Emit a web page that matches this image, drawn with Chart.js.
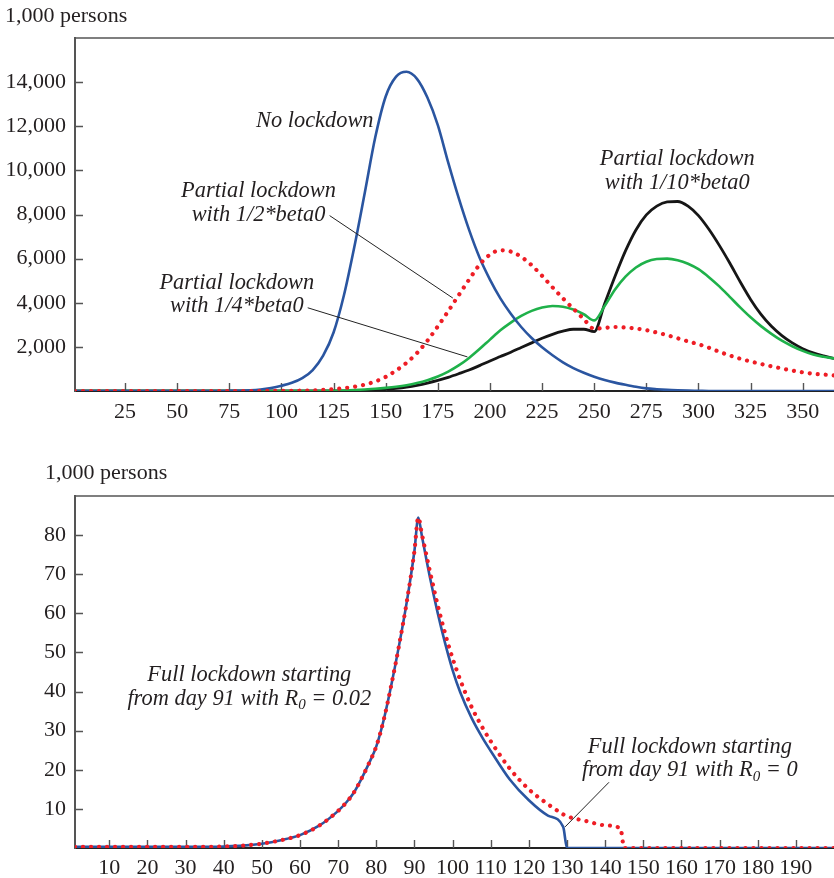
<!DOCTYPE html>
<html><head><meta charset="utf-8">
<script src="https://cdn.jsdelivr.net/npm/chart.js@4.4.1/dist/chart.umd.min.js"></script>
<style>
html,body{margin:0;padding:0;background:#fff;}
#wrap{position:relative;width:834px;height:878px;overflow:hidden;}
#c1{position:absolute;left:0;top:0;}
#c2{position:absolute;left:0;top:440px;}
</style></head><body>
<div id="wrap">
<canvas id="c1" width="834" height="440"></canvas>
<canvas id="c2" width="834" height="438"></canvas>
</div>
<script>
// ---------- Top chart data (days, thousand persons) ----------
const DAYS_TOP = [1,5,10,15,20,25,30,35,40,45,50,55,60,65,70,75,80,85,90,95,100,105,110,115,120,125,130,135,140,145,150,155,160,165,170,175,180,185,190,195,200,205,210,215,220,225,230,235,240,245,250,255,260,265,270,275,280,285,290,295,300,305,310,315,320,325,330,335,340,345,350,355,360,365];
const NO_LOCKDOWN = [0,0,0,0,0,0,0,0,0,0,0,0,0,0,0,
  5,12,30,70,140,240,370,580,950,1600,2650,4350,6550,9000,11500,13350,14250,14470,14150,13300,12050,10350,8750,7300,6050,5050,4200,3500,2900,2400,1980,1620,1300,1040,830,650,500,380,280,190,120,80,50,30,15,8,
  0,0,0,0,0,0,0,0,0,0,0,0,0];
const HALF_BETA = [0,0,0,0,0,0,0,0,0,0,0,0,0,0,0,0,0,0,
  1,2,4,
  8,15,28,48,80,130,195,290,430,640,930,1280,1720,2280,2930,3620,4340,5050,5720,6180,6380,6320,6080,5700,5220,4700,4200,3730,3260,2820,2860,2900,2880,2830,2760,2650,2530,2390,2250,2120,1960,1780,1610,1465,1340,1225,1120,1020,925,845,785,745,710];
const QUARTER_BETA = [0,0,0,0,0,0,0,0,0,0,0,0,0,0,0,0,0,0,0,0,0,0,0,0,
  5,12,25,45,70,100,140,190,260,360,490,660,880,1160,1500,1900,2330,2750,3100,3400,3630,3780,3850,3820,3690,3480,3200,3850,4600,5180,5600,5860,5980,6000,5930,5770,5520,5160,4740,4270,3790,3340,2940,2590,2280,2030,1820,1650,1550,1480];
const TENTH_BETA = [0,0,0,0,0,0,0,0,0,0,0,0,0,0,0,0,0,0,0,0,0,0,0,0,0,0,
  5,12,25,45,75,120,180,260,360,480,620,780,950,1150,1360,1560,1760,1970,2180,2390,2570,2710,2800,2800,2690,3950,5200,6350,7300,7980,8380,8570,8590,8380,7950,7330,6600,5800,4950,4150,3470,2930,2510,2180,1920,1730,1590,1470];
const X_TICKS_TOP = [25,50,75,100,125,150,175,200,225,250,275,300,325,350];
const Y_TICKS_TOP = [2000,4000,6000,8000,10000,12000,14000];

// ---------- Bottom chart data ----------
const DAYS_FULL = [1,5,10,15,20,25,30,35,40,45,50,55,60,65,70,72,74,76,78,80,82,84,86,88,90,91,92,94,96,98,100,102,105,108,110,115,120,125,129,130,135,140,144,145,150,160,170,180,190,200];
const R0_ZERO = [0.3,0.3,0.3,0.3,0.3,0.3,0.3,0.3,0.4,0.6,1.1,2.0,3.3,5.7,9.5,
  11.5,14,17.5,21.5,26,33,42,52,63,76,84.5,
  79.5,69.5,60.5,52.5,45.5,39.8,33.2,27.9,24.8,17.5,12.2,8.3,5.4,
  0,0,0,0,0,0,0,0,0,0,0];
const R0_002 = [0.3,0.3,0.3,0.3,0.3,0.3,0.3,0.3,0.4,0.6,1.1,2.0,3.3,5.7,9.5,
  11.5,14,17.5,21.5,26,33,42,52,63,76,84.5,
  80,71,62.5,55,48.5,43,36,30.5,27.3,20.3,15,11.2,8.6,
  8.1,6.9,5.8,5.0,0,0,0,0,0,0,0];
const X_TICKS_FULL = [10,20,30,40,50,60,70,80,90,100,110,120,130,140,150,160,170,180,190];
const Y_TICKS_FULL = [10,20,30,40,50,60,70,80];

// ---------- styles ----------
const FONT = '"Liberation Serif", "Times New Roman", serif';
const TXT = '#231f20';
const BLUE = '#2a55a0', GREEN = '#1fb14a', BLACK = '#161616', RED = '#ee1d25';
const TICK_SIZE = 22, NOTE_SIZE = 22.4;

const pts = (xs, ys) => xs.map((d, i) => ({x: d, y: ys[i]}));

function lineDs(label, data, color, width, dotted) {
  const ds = {label, data, borderColor: color, borderWidth: width, pointRadius: 0,
    fill: false, cubicInterpolationMode: 'monotone', borderJoinStyle: 'round'};
  if (dotted) { ds.borderDash = [0.01, 8]; ds.borderCapStyle = 'round'; }
  return ds;
}

function drawNote(ctx, x, y, note) {
  note.lines.forEach((line, li) => {
    const segs = typeof line === 'string' ? [{t: line}] : line;
    let total = 0;
    segs.forEach(s => { ctx.font = 'italic ' + (s.sub ? 15 : NOTE_SIZE) + 'px ' + FONT; s.w = ctx.measureText(s.t).width; total += s.w; });
    let cx = x - total / 2;
    const cy = y + li * 23.5;
    segs.forEach(s => {
      ctx.font = 'italic ' + (s.sub ? 15 : NOTE_SIZE) + 'px ' + FONT;
      ctx.fillText(s.t, cx, cy + (s.sub ? 6 : 0));
      cx += s.w;
    });
  });
}

function decor(opts) {
  return {
    id: 'decor',
    beforeDatasetsDraw(chart) {
      const {ctx, chartArea: a, scales: {x, y}} = chart;
      ctx.save();
      ctx.strokeStyle = '#555';
      ctx.lineWidth = 1.5;
      ctx.beginPath(); ctx.moveTo(a.left, a.top); ctx.lineTo(a.right, a.top); ctx.stroke();
      ctx.lineWidth = 1.4;
      ctx.beginPath();
      x.ticks.forEach(t => { const px = Math.round(x.getPixelForValue(t.value)) + 0.5; ctx.moveTo(px, a.bottom); ctx.lineTo(px, a.bottom - 8); });
      y.ticks.forEach(t => { const py = Math.round(y.getPixelForValue(t.value)) + 0.5; ctx.moveTo(a.left, py); ctx.lineTo(a.left + 8, py); });
      ctx.stroke();
      ctx.restore();
    },
    afterDatasetsDraw(chart) {
      const {ctx, scales: {x, y}} = chart;
      ctx.save();
      ctx.fillStyle = TXT;
      ctx.textBaseline = 'alphabetic';
      ctx.textAlign = 'left';
      ctx.font = TICK_SIZE + 'px ' + FONT;
      ctx.fillText('1,000 persons', opts.unitX, opts.unitY);
      ctx.strokeStyle = '#222';
      ctx.lineWidth = 1;
      opts.leaders.forEach(l => {
        ctx.beginPath();
        ctx.moveTo(x.getPixelForValue(l[0]), y.getPixelForValue(l[1]));
        ctx.lineTo(x.getPixelForValue(l[2]), y.getPixelForValue(l[3]));
        ctx.stroke();
      });
      ctx.textBaseline = 'middle';
      opts.notes.forEach(n => drawNote(ctx, x.getPixelForValue(n.x), y.getPixelForValue(n.y), n));
      ctx.restore();
    }
  };
}

function makeOptions(xMin, xMax, yMax, xTicks, yTicks, top, xAxisH, xPad) {
  return {
    responsive: false, animation: false,
    layout: {padding: {left: 0, right: 0, top: top, bottom: 0}},
    plugins: {legend: {display: false}, tooltip: {enabled: false}},
    scales: {
      x: {type: 'linear', min: xMin, max: xMax,
        afterBuildTicks: s => { s.ticks = xTicks.map(v => ({value: v})); },
        afterFit: s => { s.height = xAxisH; },
        grid: {display: true, drawOnChartArea: false, drawTicks: false},
        border: {display: true, color: '#222', width: 2},
        ticks: {font: {family: FONT, size: TICK_SIZE}, color: TXT, padding: xPad, maxRotation: 0, autoSkip: false,
          callback: v => String(v)}},
      y: {type: 'linear', min: 0, max: yMax,
        afterBuildTicks: s => { s.ticks = yTicks.map(v => ({value: v})); },
        afterFit: s => { s.width = 75; },
        grid: {display: true, drawOnChartArea: false, drawTicks: false},
        border: {display: true, color: '#555', width: 2},
        ticks: {font: {family: FONT, size: TICK_SIZE}, color: TXT, padding: 9,
          callback: v => Number(v).toLocaleString('en-US')}}
    }
  };
}

new Chart(document.getElementById('c1'), {
  type: 'line',
  data: {datasets: [
    lineDs('Partial lockdown with 1/2*beta0', pts(DAYS_TOP, HALF_BETA), RED, 4.2, true),
    lineDs('No lockdown', pts(DAYS_TOP, NO_LOCKDOWN), BLUE, 2.6, false),
    lineDs('Partial lockdown with 1/4*beta0', pts(DAYS_TOP, QUARTER_BETA), GREEN, 2.6, false),
    lineDs('Partial lockdown with 1/10*beta0', pts(DAYS_TOP, TENTH_BETA), BLACK, 2.8, false)
  ]},
  options: makeOptions(1, 365, 16000, X_TICKS_TOP, Y_TICKS_TOP, 38, 49, 8),
  plugins: [decor({
    unitX: 5, unitY: 22,
    notes: [
      {x: 116, y: 12230, lines: ['No lockdown']},
      {x: 89, y: 9045, lines: ['Partial lockdown', 'with 1/2*beta0']},
      {x: 78.6, y: 4909, lines: ['Partial lockdown', 'with 1/4*beta0']},
      {x: 289.8, y: 10500, lines: ['Partial lockdown', 'with 1/10*beta0']}
    ],
    leaders: [[123.1, 7950, 182.2, 4213], [112.6, 3772, 189.2, 1545]]
  })]
});

new Chart(document.getElementById('c2'), {
  type: 'line',
  data: {datasets: [
    lineDs('Full lockdown from day 91 with R0 = 0.02', pts(DAYS_FULL, R0_002), RED, 4.2, true),
    lineDs('Full lockdown from day 91 with R0 = 0', pts(DAYS_FULL, R0_ZERO), BLUE, 2.6, false)
  ]},
  options: makeOptions(1, 200, 90, X_TICKS_FULL, Y_TICKS_FULL, 56, 30, 7),
  plugins: [decor({
    unitX: 45, unitY: 39,
    notes: [
      {x: 46.7, y: 44.1, lines: ['Full lockdown starting', [{t: 'from day 91 with R'}, {t: '0', sub: true}, {t: ' = 0.02'}]]},
      {x: 162.2, y: 25.8, lines: ['Full lockdown starting', [{t: 'from day 91 with R'}, {t: '0', sub: true}, {t: ' = 0'}]]}
    ],
    leaders: [[141, 16.8, 129.5, 5.4]]
  })]
});
</script>
</body></html>
